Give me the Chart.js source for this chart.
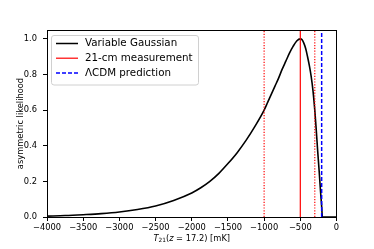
<!DOCTYPE html>
<html>
<head>
<meta charset="utf-8">
<script src="https://cdn.jsdelivr.net/npm/chart.js@4.4.0/dist/chart.umd.min.js"></script>
<style>
  body{margin:0;background:#fff;}
  #caja{width:374px;height:249px;}
</style>
</head>
<body>
<div id="caja"><canvas id="grafica" width="374" height="249"></canvas></div>
<script>
// T21 en mK (eje x) y la verosimilitud asimetrica (eje y)
var tempX = [-4000, -3750, -3500, -3250, -3000, -2750, -2500, -2250, -2000, -1875, -1750, -1625, -1500, -1375, -1250, -1125, -1000, -950, -900, -850, -800, -750, -700, -650, -600, -550, -500, -475, -450, -425, -400, -375, -350, -325, -300, -280, -260, -240, -220, -205, -195, 0];
var likeY = [0.005, 0.008, 0.013, 0.019, 0.028, 0.042, 0.062, 0.093, 0.135, 0.164, 0.20, 0.245, 0.30, 0.36, 0.43, 0.51, 0.60, 0.645, 0.69, 0.735, 0.78, 0.83, 0.875, 0.92, 0.958, 0.988, 1.0, 0.995, 0.975, 0.945, 0.90, 0.85, 0.79, 0.71, 0.60, 0.49, 0.37, 0.26, 0.14, 0.06, 0, 0];

var medida = -500;       // 21-cm measurement
var medidaBajo = -1000;  // limites punteados
var medidaAlto = -300;
var lcdm = -205;         // prediccion LCDM

var xTicks = [-4000, -3500, -3000, -2500, -2000, -1500, -1000, -500, 0];
var yTicks = [0, 0.2, 0.4, 0.6, 0.8, 1.0];
var etiquetas = ["Variable Gaussian", "21-cm measurement", "\u039bCDM prediction"];

var yMax = 1.05;
var fuente = "'DejaVu Sans', sans-serif";

function vertical(x){
    return [{x: x, y: 0}, {x: x, y: yMax}];
}

function menos(v){
    return v < 0 ? "\u2212" + Math.abs(v) : String(v);
}

// caja con esquinas redondeadas
function cajaRedonda(ctx, x, y, w, h, r){
    ctx.beginPath();
    ctx.moveTo(x + r, y);
    ctx.arcTo(x + w, y, x + w, y + h, r);
    ctx.arcTo(x + w, y + h, x, y + h, r);
    ctx.arcTo(x, y + h, x, y, r);
    ctx.arcTo(x, y, x + w, y, r);
    ctx.closePath();
}

// marco de los cuatro lados
var marco = {
    id: 'marco',
    afterDatasetsDraw: function(chart){
        var a = chart.chartArea, ctx = chart.ctx;
        ctx.save();
        ctx.strokeStyle = '#000';
        ctx.lineWidth = 1;
        ctx.strokeRect(Math.round(a.left) + 0.5, Math.round(a.top) + 0.5, Math.round(a.right - a.left) - 1, Math.round(a.bottom - a.top));
        ctx.restore();
    }
};

// leyenda dentro del area
var leyenda = {
    id: 'leyenda',
    afterDraw: function(chart){
        var ctx = chart.ctx;
        var estilos = [
            {color: '#000000', dash: [], ancho: 1.5},
            {color: '#ff0000', dash: [], ancho: 1.2},
            {color: '#0000ff', dash: [4, 2], ancho: 1.5}
        ];
        ctx.save();
        cajaRedonda(ctx, 51.5, 35.5, 147, 49.5, 2.5);
        ctx.fillStyle = 'rgba(255,255,255,0.8)';
        ctx.fill();
        ctx.strokeStyle = '#d0d0d0';
        ctx.lineWidth = 1;
        ctx.stroke();
        ctx.font = "10.3px " + fuente;
        ctx.textBaseline = 'middle';
        for (var i = 0; i < etiquetas.length; i++){
            var y = 43.5 + i * 14.7;
            ctx.beginPath();
            ctx.setLineDash(estilos[i].dash);
            ctx.strokeStyle = estilos[i].color;
            ctx.lineWidth = estilos[i].ancho;
            ctx.moveTo(56, y);
            ctx.lineTo(78, y);
            ctx.stroke();
            ctx.setLineDash([]);
            ctx.fillStyle = '#000';
            ctx.fillText(etiquetas[i], 85, y);
        }
        ctx.restore();
    }
};

// titulos de los ejes (x con cursiva y subindice)
var titulos = {
    id: 'titulos',
    afterDraw: function(chart){
        var ctx = chart.ctx, a = chart.chartArea;
        ctx.save();
        ctx.fillStyle = '#000';
        ctx.textBaseline = 'alphabetic';
        ctx.textAlign = 'left';

        ctx.save();
        ctx.translate(22.5, (a.top + a.bottom) / 2);
        ctx.rotate(-Math.PI / 2);
        ctx.font = "8.3px " + fuente;
        ctx.textAlign = 'center';
        ctx.fillText("asymmetric likelihood", 0, 0);
        ctx.restore();

        var partes = [
            {t: "T", f: "italic 8.3px " + fuente, dy: 0},
            {t: "21", f: "5.8px " + fuente, dy: 1.8},
            {t: "(", f: "8.3px " + fuente, dy: 0},
            {t: "z", f: "italic 8.3px " + fuente, dy: 0},
            {t: " = 17.2) [mK]", f: "8.3px " + fuente, dy: 0}
        ];
        var total = 0;
        partes.forEach(function(p){ ctx.font = p.f; total += ctx.measureText(p.t).width; });
        var x = (a.left + a.right) / 2 - total / 2;
        var base = 240.5;
        partes.forEach(function(p){
            ctx.font = p.f;
            ctx.fillText(p.t, x, base + p.dy);
            x += ctx.measureText(p.t).width;
        });
        ctx.restore();
    }
};

var ctx = document.getElementById("grafica");
var grafica = new Chart(ctx, {
    type: 'line',
    data: {
        datasets: [
            {
                label: etiquetas[0],
                data: tempX.map(function(x, i){ return {x: x, y: likeY[i]}; }),
                borderColor: '#000000',
                borderWidth: 1.6,
                pointRadius: 0,
                cubicInterpolationMode: 'monotone',
                fill: false,
                order: 5
            },
            {
                label: etiquetas[1],
                data: vertical(medida),
                borderColor: '#ff0000',
                borderWidth: 1.2,
                pointRadius: 0,
                order: 3
            },
            {
                label: etiquetas[1] + " bajo",
                data: vertical(medidaBajo),
                borderColor: '#ff0000',
                borderWidth: 1.2,
                borderDash: [1.2, 1.6],
                pointRadius: 0,
                order: 3
            },
            {
                label: etiquetas[1] + " alto",
                data: vertical(medidaAlto),
                borderColor: '#ff0000',
                borderWidth: 1.2,
                borderDash: [1.2, 1.6],
                pointRadius: 0,
                order: 3
            },
            {
                label: etiquetas[2],
                data: vertical(lcdm),
                borderColor: '#0000ff',
                borderWidth: 1.5,
                borderDash: [4, 2],
                pointRadius: 0,
                order: 1
            }
        ]
    },
    options: {
        responsive: false,
        devicePixelRatio: 1,
        animation: false,
        layout: {padding: {top: 30, right: 37.5, left: 0, bottom: 0}},
        plugins: {
            legend: {display: false},
            tooltip: {enabled: false}
        },
        scales: {
            x: {
                type: 'linear',
                min: -4000,
                max: 0,
                afterBuildTicks: function(s){ s.ticks = xTicks.map(function(v){ return {value: v}; }); },
                afterFit: function(s){ s.height = 32; },
                ticks: {
                    callback: function(v){ return menos(v); },
                    font: {family: fuente, size: 8.3},
                    color: '#000',
                    padding: 1.5,
                    maxRotation: 0,
                    autoSkip: false
                },
                grid: {drawOnChartArea: false, drawTicks: true, tickLength: 4, tickColor: '#000', tickWidth: 1},
                border: {display: false}
            },
            y: {
                min: 0,
                max: yMax,
                afterBuildTicks: function(s){ s.ticks = yTicks.map(function(v){ return {value: v}; }); },
                afterFit: function(s){ s.width = 47; },
                ticks: {
                    callback: function(v){ return v.toFixed(1); },
                    font: {family: fuente, size: 8.3},
                    color: '#000',
                    padding: 6
                },
                grid: {drawOnChartArea: false, drawTicks: true, tickLength: 4, tickColor: '#000', tickWidth: 1},
                border: {display: false}
            }
        }
    },
    plugins: [marco, leyenda, titulos]
});
</script>
</body>
</html>
